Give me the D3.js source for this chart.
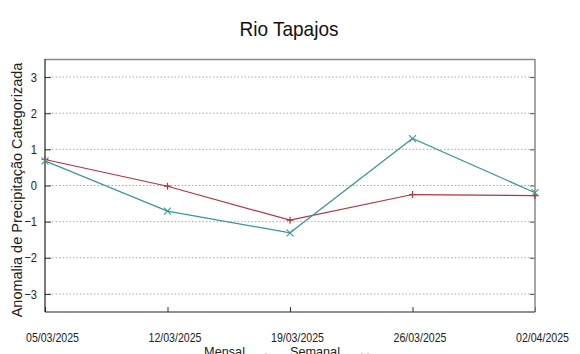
<!DOCTYPE html>
<html>
<head>
<meta charset="utf-8">
<script src="https://cdn.jsdelivr.net/npm/d3@7"></script>
<style>
  html, body { margin: 0; padding: 0; background: #fff; }
  svg { display: block; }
</style>
</head>
<body>
<svg id="chart" width="580" height="354"></svg>
<script>
const dates = ["2025-03-05", "2025-03-12", "2025-03-19", "2025-03-26", "2025-04-02"];
const mensal = [0.72, -0.02, -0.96, -0.25, -0.28];
const semanal = [0.68, -0.71, -1.31, 1.30, -0.20];
const yTicks = [-3, -2, -1, 0, 1, 2, 3];
const seriesNames = ["Mensal", "Semanal"];
const title = "Rio Tapajos";
const yLabel = "Anomalia de Precipitação Categorizada";

const W = 580, H = 354;
const m = { left: 45, right: 45, top: 59, bottom: 42 };
const svg = d3.select("#chart");
const parse = d3.timeParse("%Y-%m-%d");
const dts = dates.map(parse);

const x = d3.scaleTime().domain([dts[0], dts[dts.length - 1]]).range([m.left, W - m.right]);
const y = d3.scaleLinear().domain([-3.5, 3.5]).range([H - m.bottom, m.top]);

const mainFont = "'Liberation Sans', Arial, sans-serif";

// gridlines
svg.append("g")
  .selectAll("line")
  .data(yTicks)
  .join("line")
  .attr("x1", m.left).attr("x2", W - m.right)
  .attr("y1", d => y(d)).attr("y2", d => y(d))
  .attr("stroke", "#a8a8a8").attr("stroke-width", 1)
  .attr("stroke-dasharray", "1.5,2");

// left axis (ticks inward)
const yPad = 8, ySx = 0.85;
const gl = svg.append("g").attr("transform", `translate(${m.left},0)`)
  .call(d3.axisLeft(y).tickValues(yTicks).tickSizeInner(-6).tickSizeOuter(0).tickPadding(yPad)
    .tickFormat(d3.format("d")));
gl.select(".domain").remove();
gl.selectAll("line").attr("stroke", "#333");
gl.selectAll("text").attr("font-family", mainFont).attr("font-size", 13).attr("fill", "#222")
  .attr("transform", `scale(${ySx},1)`).attr("x", -yPad / ySx);

// right axis ticks
const gr = svg.append("g").attr("transform", `translate(${W - m.right},0)`)
  .call(d3.axisRight(y).tickValues(yTicks).tickSizeInner(-5).tickSizeOuter(0).tickFormat(""));
gr.select(".domain").remove();
gr.selectAll("line").attr("stroke", "#555");

// bottom axis
const gb = svg.append("g").attr("transform", `translate(0,${H - m.bottom})`)
  .call(d3.axisBottom(x).tickValues(dts).tickSizeInner(-5).tickSizeOuter(0)
    .tickPadding(20).tickFormat(d3.timeFormat("%d/%m/%Y")));
gb.select(".domain").remove();
gb.selectAll("line").attr("stroke", "#333");
gb.selectAll("text").attr("font-family", mainFont).attr("font-size", 13.5)
  .attr("fill", "#222").attr("x", 7)
  .attr("textLength", 53).attr("lengthAdjust", "spacingAndGlyphs");

// frame
const fx0 = m.left, fx1 = W - m.right, fy0 = m.top, fy1 = H - m.bottom;
svg.append("line").attr("x1", fx0).attr("x2", fx1).attr("y1", fy0 + 0.5).attr("y2", fy0 + 0.5)
  .attr("stroke", "#888").attr("stroke-width", 1.5);
svg.append("line").attr("x1", fx1).attr("x2", fx1).attr("y1", fy0).attr("y2", fy1)
  .attr("stroke", "#888").attr("stroke-width", 1.5);
svg.append("line").attr("x1", fx0).attr("x2", fx1).attr("y1", fy1).attr("y2", fy1)
  .attr("stroke", "#222").attr("stroke-width", 1.2);
svg.append("line").attr("x1", fx0).attr("x2", fx0).attr("y1", fy0).attr("y2", fy1)
  .attr("stroke", "#222").attr("stroke-width", 1.2);

const colors = ["#b5323e", "#3a9797"];
const line = d3.line().x(d => x(d.date)).y(d => y(d.v));
const series = [mensal, semanal].map(arr => arr.map((v, i) => ({ date: dts[i], v })));

series.forEach((s, k) => {
  svg.append("path").datum(s).attr("d", line)
    .attr("fill", "none").attr("stroke", colors[k]).attr("stroke-width", 1.2);
});

function marker(g, type, cx, cy, color, r) {
  if (type === "+") {
    g.append("path").attr("d", `M${cx - r},${cy}H${cx + r}M${cx},${cy - r}V${cy + r}`)
      .attr("stroke", color).attr("stroke-width", 1.2).attr("fill", "none");
  } else {
    g.append("path").attr("d", `M${cx - r},${cy - r}L${cx + r},${cy + r}M${cx - r},${cy + r}L${cx + r},${cy - r}`)
      .attr("stroke", color).attr("stroke-width", 1.1).attr("fill", "none");
  }
}
const types = ["+", "x"];
series.forEach((s, k) => {
  const g = svg.append("g");
  s.forEach(d => marker(g, types[k], x(d.date), y(d.v), colors[k], 3.5));
});

// title
svg.append("text").attr("x", 289).attr("y", 36).attr("text-anchor", "middle")
  .attr("font-family", mainFont).attr("font-size", 21).attr("fill", "#111")
  .attr("textLength", 99).attr("lengthAdjust", "spacingAndGlyphs").text(title);

// y label
svg.append("text").attr("transform", `translate(22,190) rotate(-90)`).attr("text-anchor", "middle")
  .attr("font-family", mainFont).attr("font-size", 14.5).attr("fill", "#222").text(yLabel);

// legend (partially cut off at bottom, as in the reference)
const legX = [245, 340];
const legMark = [266, 365];
seriesNames.forEach((n, k) => {
  svg.append("text").attr("x", legX[k]).attr("y", 356).attr("text-anchor", "end")
    .attr("font-family", mainFont).attr("font-size", 12.7).attr("fill", "#222").text(n);
  marker(svg.append("g"), types[k], legMark[k], 357, colors[k], 3.5);
});
</script>
</body>
</html>
